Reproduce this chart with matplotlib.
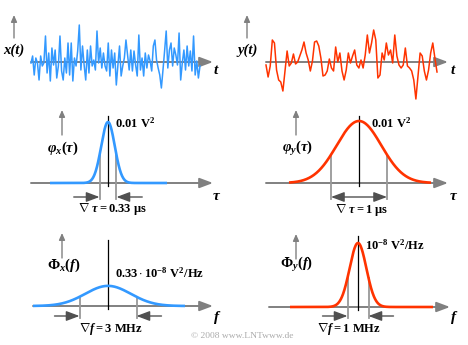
import numpy as np
import matplotlib.pyplot as plt

# sample values (pixel offsets from the t-axis, up = positive)
x_sig = [-1, 6, -13, 4, -1, -18, 6, -4, -1, 26, -11, 9, -19, 14, -3, 12, -16, -4, 26, -9,
         -18, 4, -11, 19, -13, 19, -19, 4, -4, 11, 37, -8, 16, -3, -18, 12, -11, 16, -4, 2,
         -8, 31, -1, 14, -6, 9, -4, -9, 19, -14, 12, -6, 9, -23, -3, 16, -14, -4, 4, 22,
         7, -8, 12, -9, 11, -3, -14, 27, -8, 4, -14, 9, -6, 7, 1, -9, 16, 22, 2, -6,
         -13, -26, -8, 11, 31, -6, 12, 19, -4, 14, 7, -3, 29, -18, -1, 12, -8, 16, -4, 11,
         -9, 26, -13, 1, -16, -4]
y_sig = [-3, -15, -4, 22, 19, -8, -18, -20, -29, -9, 11, -4, -1, 8, -2, 0, 6, 12, 20, 9,
         2, -9, 1, 20, 21, 16, 4, -14, -13, -9, 3, -6, -9, 15, 0, 9, -9, -18, -8, 9,
         -1, 6, 12, -3, -6, 2, -6, 7, 27, 9, 19, 32, 22, -16, -13, 9, 2, 19, 7, 12,
         -1, 27, 6, -3, -6, -3, 14, -4, -6, -9, -18, -37, -14, 9, 6, -9, -18, -8, 9, 19,
         4, -10]

# Gaussian ACF / PSD parameters
phi_x_max, dtau_x = 0.01, 0.33   # V^2, us
phi_y_max, dtau_y = 0.01, 1.0
Phi_x_max, df_x = 0.33, 3.0      # 1e-8 V^2/Hz, MHz
Phi_y_max, df_y = 1.0, 1.0

BLUE = '#3399ff'
RED = '#ff3300'
GREY = '#808080'
DARK = '#505050'

plt.rcParams['font.family'] = ['Liberation Serif', 'DejaVu Serif']
plt.rcParams['mathtext.fontset'] = 'custom'
plt.rcParams['mathtext.rm'] = 'Liberation Serif:bold'
plt.rcParams['mathtext.it'] = 'Liberation Serif:italic:bold'
plt.rcParams['mathtext.bf'] = 'Liberation Serif:bold'

W, H = 468, 345
fig = plt.figure(figsize=(W / 100, H / 100), dpi=100)

# background axes in pixel coordinates for labels and decoration arrows
ax0 = fig.add_axes([0, 0, 1, 1])
ax0.set_xlim(0, W)
ax0.set_ylim(H, 0)
ax0.axis('off')


def panel(left, right, top, bottom, x0, sx, y0, sy):
    # axes covering a pixel box; (x0, y0) = pixel of data origin, sx/sy = px per unit
    ax = fig.add_axes([left / W, 1 - bottom / H, (right - left) / W, (bottom - top) / H])
    ax.set_xlim((left - x0) / sx, (right - x0) / sx)
    ax.set_ylim((y0 - bottom) / sy, (y0 - top) / sy)
    ax.axis('off')
    ax.px = lambda p: (p - x0) / sx
    ax.py = lambda p: (y0 - p) / sy
    return ax


def arrow(ax, start, end, color=GREY, lw=1.4, hl=0.8, hw=0.3, ms=10):
    ax.annotate('', xy=end, xytext=start, annotation_clip=False,
                arrowprops=dict(arrowstyle=f'-|>,head_length={hl},head_width={hw}',
                                color=color, lw=lw, shrinkA=0, shrinkB=0,
                                mutation_scale=ms))


def gauss(v, peak, width):
    return peak * np.exp(-np.pi * (v / width) ** 2)


def label(x, y, s, size=10, ha='left', color='black', **kw):
    ax0.text(x, y, s, fontsize=size, ha=ha, va='center', color=color, **kw)


# ---- time signals ----
for sig, color, xl, xr, base in [(x_sig, BLUE, 31, 200, 0), (y_sig, RED, 266, 437, 234)]:
    ax = panel(base, base + 234, 5, 110, xl, 1, 62, 1)
    t = np.linspace(0, xr - xl, len(sig))
    ax.plot(t, sig, color=color, lw=1.1, solid_joinstyle='round', clip_on=False, zorder=3)

# axis arrows (pixel coordinates)
arrow(ax0, (31, 62), (213, 62), hl=0.8, hw=0.3)
arrow(ax0, (266, 62), (448, 62), hl=0.8, hw=0.3)
arrow(ax0, (14, 38), (14, 15), lw=1.0, hl=0.5, hw=0.22, ms=8)
arrow(ax0, (247, 38), (247, 15), lw=1.0, hl=0.5, hw=0.22, ms=8)

label(3, 50, 'x(t)', size=10.5, fontweight='bold', fontstyle='italic')
label(237, 50, 'y(t)', size=10.5, fontweight='bold', fontstyle='italic')
label(214, 71, 't', size=11, fontweight='bold', fontstyle='italic')
label(451, 71, 't', size=11, fontweight='bold', fontstyle='italic')


# ---- ACF and PSD panels ----
def gauss_panel(box, x0, sx, y0, sy, peak, width, color, flat, axis_px, vx, top_px,
                low_px, dim, outward, peak_lbl, peak_xy, name, name_xy, dim_lbl, dim_xy,
                var):
    ax = panel(*box, x0, sx, y0, sy)
    # horizontal axis and small ordinate arrow
    arrow(ax0, (axis_px[0], y0), (axis_px[1], y0), hl=0.8, hw=0.3)
    arrow(ax0, (vx, y0 - 48), (vx, y0 - 73), lw=1.0, hl=0.5, hw=0.22, ms=8)
    # centre line
    ax.plot([0, 0], [ax.py(y0 + 3), ax.py(top_px)], color='black', lw=0.9, clip_on=False)
    # marks at +-width/2
    for s in (-1, 1):
        v = s * width / 2
        ax.plot([v, v], [gauss(v, peak, width), ax.py(low_px)], color='#999999',
                lw=1.3, clip_on=False)
    # curve
    v = np.linspace(ax.px(flat[0]), ax.px(flat[1]), 400)
    ax.plot(v, gauss(v, peak, width), color=color, lw=1.9, clip_on=False,
            solid_capstyle='butt')
    # dimension arrows
    ya = ax.py(low_px - 2)
    if outward:
        ax.annotate('', xy=(width / 2, ya), xytext=(-width / 2, ya), annotation_clip=False,
                    arrowprops=dict(arrowstyle='<|-|>,head_length=0.8,head_width=0.3',
                                    color=DARK, lw=1.0, shrinkA=0, shrinkB=0,
                                    mutation_scale=10))
    else:
        for s in (-1, 1):
            arrow(ax, (s * (width / 2 + dim), ya), (s * width / 2, ya), color=DARK,
                  lw=1.0, hl=0.8, hw=0.3)
    label(*peak_xy, peak_lbl, size=9)
    label(*name_xy, name, size=10.5)
    label(*dim_xy, dim_lbl, size=9, ha='center')
    label(var[0], var[1], var[2], size=11, fontweight='bold', fontstyle='italic')


gauss_panel((0, 234, 95, 225), 108, 51.5, 183, 6100, phi_x_max, dtau_x, BLUE,
            (50, 167), (31, 213), 62, 116, 199, 0.5, False,
            r'$0.01\ \mathrm{V}^2$', (115, 123), r'$φ_x(τ)$', (47, 148),
            r'$\nabla\ τ\mathrm{= 0.33\ μs}$', (112, 209), (213, 196, 'τ'))
gauss_panel((234, 468, 95, 225), 359, 56, 183, 6200, phi_y_max, dtau_y, RED,
            (289, 431), (266, 448), 296, 116, 199, None, True,
            r'$0.01\ \mathrm{V}^2$', (371, 123), r'$φ_y(τ)$', (282, 148),
            r'$\nabla\ τ\mathrm{= 1\ μs}$', (362, 210), (450, 196, 'τ'))
gauss_panel((0, 234, 225, 345), 108, 19, 306, 61, Phi_x_max, df_x, BLUE,
            (33, 185), (33, 213), 62, 240, 318, 25 / 19, False,
            r'$0.33\cdot10^{-8}\ \mathrm{V^2/Hz}$', (115, 273), r'$\Phi_x(f)$', (47, 265),
            r'$\nabla f\mathrm{ = 3\ MHz}$', (111, 329), (214, 317, 'f'))
gauss_panel((234, 468, 225, 345), 358, 21, 307, 64, Phi_y_max, df_y, RED,
            (290, 433), (269, 450), 296, 236, 318, 25 / 21, False,
            r'$10^{-8}\ \mathrm{V^2/Hz}$', (365, 245), r'$\Phi_y(f)$', (280, 265),
            r'$\nabla f\mathrm{ = 1\ MHz}$', (349, 329), (451, 318, 'f'))

label(242, 336, '© 2008 www.LNTwww.de', size=6.8, ha='center', color='#aaaaaa')

fig.savefig('out.png', dpi=100)
